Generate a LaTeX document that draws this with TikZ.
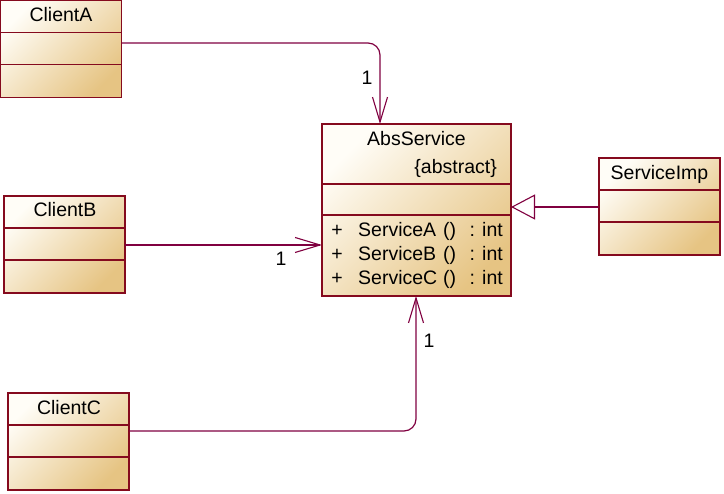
\documentclass[tikz,border=0pt]{standalone}
\usepackage{fontspec}
\setmainfont{Liberation Sans}
\usetikzlibrary{arrows.meta,positioning,calc}
\definecolor{bord}{HTML}{850A1E}
\definecolor{conncol}{HTML}{800040}
\definecolor{lightfill}{HTML}{FFFDF7}
\definecolor{darkfill}{HTML}{E6C483}
\begin{document}
\begin{tikzpicture}[x=1pt,y=-1pt,
  umlbox/.style={draw=bord, line width=1.4pt, top color=lightfill, bottom color=darkfill, shading angle=45, inner sep=0pt, outer sep=0pt, anchor=north west},
  sepline/.style={draw=bord, line width=1.2pt},
  conn/.style={draw=conncol, line width=1.2pt, rounded corners=12pt},
  openarrow/.style={-{Straight Barb[length=25pt,width=15pt,line width=1.1pt]}},
  genarrow/.style={-{Triangle[open,length=24pt,width=25pt,line width=1.1pt,fill=white]}},
  txt/.style={font=\fontsize{19.5}{23}\selectfont, inner sep=0pt, text=black},
  mult/.style={font=\fontsize{19.5}{23}\selectfont, inner sep=0pt, text=black}]
\useasboundingbox (0,0) rectangle (724,494);

% boxes
\node[umlbox, minimum width=121pt, minimum height=97pt] (A) at (0.7,0.7) {};
\node[umlbox, minimum width=121pt, minimum height=97pt] (B) at (4,196) {};
\node[umlbox, minimum width=121pt, minimum height=97pt] (C) at (8,393) {};
\node[umlbox, minimum width=189pt, minimum height=172pt] (Abs) at (322,124) {};
\node[umlbox, minimum width=121pt, minimum height=97pt] (Imp) at (599,158) {};

% compartment lines
\foreach \n in {A,B,C,Imp}{
  \draw[sepline] ([yshift=-32pt]\n.north west) -- ([yshift=-32pt]\n.north east);
  \draw[sepline] ([yshift=-64pt]\n.north west) -- ([yshift=-64pt]\n.north east);
}
\draw[sepline] ([yshift=-60pt]Abs.north west) -- ([yshift=-60pt]Abs.north east);
\draw[sepline] ([yshift=-91pt]Abs.north west) -- ([yshift=-91pt]Abs.north east);

% titles
\node[txt, anchor=base] (tA) at (61,22) {ClientA};
\node[txt, anchor=base] (tB) at (65,217) {ClientB};
\node[txt, anchor=base] (tC) at (69,415) {ClientC};
\node[txt, anchor=base] (tAbs) at (416.5,146) {AbsService};
\node[txt, anchor=base east] (tAbst) at (497,174) {\{abstract\}};
\node[txt, anchor=base] (tImp) at (659.5,180) {ServiceImp};

% methods
\foreach \m/\y in {A/237,B/261,C/285}{
  \node[txt, anchor=base] (p\m) at (337,\y) {+};
  \node[txt, anchor=base west] (n\m) at (358,\y) {Service\m};
  \node[txt, anchor=base west] (b\m) at (443,\y) {()};
  \node[txt, anchor=base east] (r\m) at (503,\y) {: int};
}

% connectors
\draw[conn, openarrow] ([yshift=-42.3pt]A.north east) -| ([xshift=58pt]Abs.north west);
\draw[conn, openarrow] ([yshift=-49pt]B.north east) -- ([yshift=-121pt]Abs.north west);
\draw[conn, openarrow] ([yshift=-38pt]C.north east) -| ([xshift=94pt]Abs.south west);
\draw[conn, genarrow, rounded corners=0pt] ([yshift=-49pt]Imp.north west) -- ([yshift=-83pt]Abs.north east);

% multiplicities
\node[mult, anchor=base] (m1) at (367,85) {1};
\node[mult, anchor=base] (m2) at (281,266) {1};
\node[mult, anchor=base] (m3) at (429,348) {1};
\end{tikzpicture}
\end{document}
